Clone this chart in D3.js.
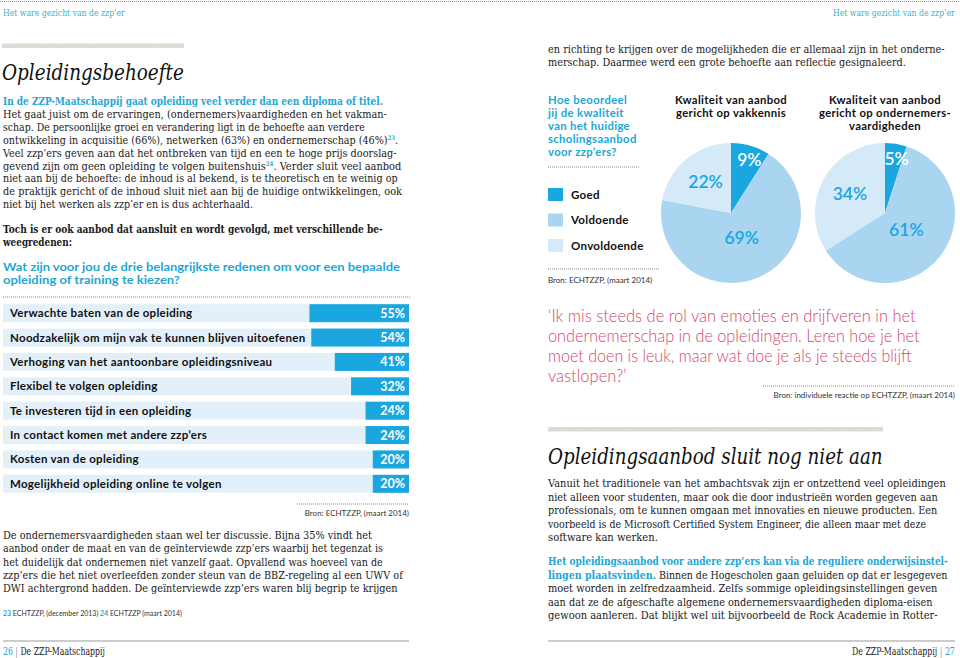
<!DOCTYPE html>
<html><head><meta charset="utf-8">
<script src="https://cdn.jsdelivr.net/npm/d3@7/dist/d3.min.js"></script>
<style>html,body{margin:0;padding:0;background:#fff;}svg{display:block;}</style>
</head><body>
<svg id="c" width="960" height="658"></svg>
<script>
// ---------- DATA ----------
const reasons = [
  "Verwachte baten van de opleiding",
  "Noodzakelijk om mijn vak te kunnen blijven uitoefenen",
  "Verhoging van het aantoonbare opleidingsniveau",
  "Flexibel te volgen opleiding",
  "Te investeren tijd in een opleiding",
  "In contact komen met andere zzp\u2019ers",
  "Kosten van de opleiding",
  "Mogelijkheid opleiding online te volgen"
];
const reasonValues = [55, 54, 41, 32, 24, 24, 20, 20];

const qualityCategories = ["Goed", "Voldoende", "Onvoldoende"];
const vakkennisValues = [9, 69, 22];
const ondernemersValues = [5, 61, 34];
const pieTitles = [
  ["Kwaliteit van aanbod", "gericht op vakkennis"],
  ["Kwaliteit van aanbod", "gericht op ondernemers-", "vaardigheden"]
];

// ---------- STYLE ----------
const BLUE = "#1aa6df", VOLD = "#a9d5f1", ONV = "#d4eaf8", BG = "#e3f0f9";
const TEAL = "#23a6d5", HEADTEAL = "#3eb2c6", PINK = "#d5466c", INK = "#1a1a1a";
const SERIF = "'DejaVu Serif', serif", SANS = "Lato, 'Open Sans', sans-serif";

const svg = d3.select("#c");

function fit(x, y, parts, width, opt) {
  opt = opt || {};
  const t = svg.append("text")
    .attr("font-family", opt.family || SERIF)
    .attr("font-size", opt.size || 11.8)
    .attr("font-style", opt.italic ? "italic" : null)
    .attr("font-weight", opt.weight || null)
    .attr("letter-spacing", opt.ls || null)
    .attr("fill", opt.color || INK);
  parts.forEach(p => {
    if (typeof p === "string") p = {t: p};
    const s = t.append("tspan").text(p.t);
    if (p.bold) s.attr("font-weight", "bold");
    if (p.color) s.attr("fill", p.color);
    if (p.sup) s.attr("font-size", 6.5).attr("dy", -4).attr("fill", TEAL).attr("font-weight", "bold");
    if (p.unsup) s.attr("dy", 4);
  });
  const w = t.node().getComputedTextLength();
  let s = opt.scale || (width ? width / w : 1);
  const x0 = opt.anchor === "end" ? x - w * s : x;
  t.attr("transform", `translate(${x0},${y}) scale(${s},1)`);
  return s;
}
function dotted(x1, x2, y) {
  svg.append("line").attr("x1", x1).attr("x2", x2).attr("y1", y).attr("y2", y)
    .attr("stroke", "#8a8a8a").attr("stroke-width", 1).attr("stroke-dasharray", "1,1");
}

// ---------- HEADER ----------
dotted(0, 960, 1.5);
fit(3, 16, ["Het ware gezicht van de zzp\u2019er"], 122, {size: 10, color: HEADTEAL});
fit(955, 16, ["Het ware gezicht van de zzp\u2019er"], 122, {size: 10, color: HEADTEAL, anchor: "end"});

// hatched bars
const defs = svg.append("defs");
const pat = defs.append("pattern").attr("id", "hatch").attr("width", 2).attr("height", 2)
  .attr("patternUnits", "userSpaceOnUse").attr("patternTransform", "rotate(45)");
pat.append("rect").attr("width", 2).attr("height", 2).attr("fill", "#e6e4de");
pat.append("rect").attr("width", 1).attr("height", 2).attr("fill", "#d6d3cb");
svg.append("rect").attr("x", 2).attr("y", 43.5).attr("width", 182).attr("height", 4.5).attr("fill", "url(#hatch)");
svg.append("rect").attr("x", 548).attr("y", 427).attr("width", 335).attr("height", 4.5).attr("fill", "url(#hatch)");

fit(2, 80, ["Opleidingsbehoefte"], 182, {size: 21.5, italic: true, color: "#111"});

// ---------- LEFT COLUMN TEXT ----------
const leftPara = [
  [[{t: "In de ZZP-Maatschappij gaat opleiding veel verder dan een diploma of titel.", bold: true, color: TEAL}], 380],
  [["Het gaat juist om de ervaringen, (ondernemers)vaardigheden en het vakman-"], 384],
  [["schap. De persoonlijke groei en verandering ligt in de behoefte aan verdere"], 362],
  [["ontwikkeling in acquisitie (66%), netwerken (63%) en ondernemerschap (46%)", {t: "23", sup: true}, {t: ".", unsup: true}], 395],
  [["Veel zzp\u2019ers geven aan dat het ontbreken van tijd en een te hoge prijs doorslag-"], 394],
  [["gevend zijn om geen opleiding te volgen buitenshuis", {t: "24", sup: true}, {t: ". Verder sluit veel aanbod", unsup: true}], 399],
  [["niet aan bij de behoefte: de inhoud is al bekend, is te theoretisch en te weinig op"], 395],
  [["de praktijk gericht of de inhoud sluit niet aan bij de huidige ontwikkelingen, ook"], 399],
  [["niet bij het werken als zzp\u2019er en is dus achterhaald."], 250]
];
leftPara.forEach((l, i) => fit(3, 105 + i * 12.9, l[0], l[1]));

fit(3, 233, [{t: "Toch is er ook aanbod dat aansluit en wordt gevolgd, met verschillende be-", bold: true}], 380);
fit(3, 246, [{t: "weegredenen:", bold: true}], 69);

fit(3, 271, [{t: "Wat zijn voor jou de drie belangrijkste redenen om voor een bepaalde", bold: true}], 397, {family: SANS, size: 12, color: TEAL});
fit(3, 283.5, [{t: "opleiding of training te kiezen?", bold: true}], 177, {family: SANS, size: 12, color: TEAL});

dotted(3, 410, 297);

// ---------- BAR CHART ----------
const barRight = 409;
const x = d3.scaleLinear().domain([0, 100]).range([0, 181]);
const y = d3.scaleBand().domain(reasons).range([301, 496]).paddingInner(0.262).paddingOuter(0.131);
const rows = svg.append("g").selectAll("g").data(reasons).join("g");
rows.append("rect").attr("x", 3).attr("y", d => y(d)).attr("width", barRight - 3)
  .attr("height", y.bandwidth()).attr("fill", BG);
rows.append("rect").attr("x", (d, i) => barRight - x(reasonValues[i])).attr("y", d => y(d))
  .attr("width", (d, i) => x(reasonValues[i])).attr("height", y.bandwidth()).attr("fill", BLUE);
rows.append("text").attr("x", 10).attr("y", d => y(d) + y.bandwidth() / 2 + 4)
  .attr("font-family", SANS).attr("font-weight", "bold").attr("font-size", 11.5)
  .attr("letter-spacing", 0.3).attr("fill", "#111").text(d => d);
rows.append("text").attr("x", barRight - 4).attr("y", d => y(d) + y.bandwidth() / 2 + 4.5)
  .attr("text-anchor", "end").attr("font-family", SANS).attr("font-weight", "bold").attr("font-size", 12.5)
  .attr("fill", "#fff").text((d, i) => reasonValues[i] + "%");

dotted(297, 409, 504);
fit(409, 516, ["Bron: ECHTZZP, (maart 2014)"], null, {family: SANS, size: 8, color: "#333", anchor: "end"});

// ---------- LEFT BOTTOM TEXT ----------
const leftPara2 = [
  ["De ondernemersvaardigheden staan wel ter discussie. Bijna 35% vindt het", 369],
  ["aanbod onder de maat en van de ge\u00efnterviewde zzp\u2019ers waarbij het tegenzat is", 380],
  ["het duidelijk dat ondernemen niet vanzelf gaat. Opvallend was hoeveel van de", 380],
  ["zzp\u2019ers die het niet overleefden zonder steun van de BBZ-regeling al een UWV of", 400],
  ["DWI achtergrond hadden. De ge\u00efnterviewde zzp\u2019ers waren blij begrip te krijgen", 395]
];
leftPara2.forEach((l, i) => fit(3, 539 + i * 13.25, [l[0]], l[1]));

fit(3, 616, [{t: "23 ", color: TEAL, bold: true}, "ECHTZZP, (december 2013) ", {t: "24 ", color: TEAL, bold: true}, "ECHTZZP (maart 2014)"], 179, {family: SANS, size: 7, color: "#333"});

svg.append("line").attr("x1", 3).attr("x2", 409).attr("y1", 641).attr("y2", 641).attr("stroke", "#999").attr("stroke-width", 1);
fit(3, 655, [{t: "26", color: TEAL}, {t: " | ", color: "#999"}, "De ZZP-Maatschappij"], 102, {size: 10.5});

// ---------- RIGHT PAGE ----------
fit(548, 53, ["en richting te krijgen over de mogelijkheden die er allemaal zijn in het onderne-"], 397);
fit(548, 66, ["merschap. Daarmee werd een grote behoefte aan reflectie gesignaleerd."], 358);

const question2 = ["Hoe beoordeel", "jij de kwaliteit", "van het huidige", "scholingsaanbod", "voor zzp\u2019ers?"];
question2.forEach((l, i) => fit(548, 104 + i * 13, [{t: l, bold: true}], null, {family: SANS, size: 11.3, ls: 0.35, color: TEAL}));
dotted(548, 640, 167);

const legendColors = [BLUE, VOLD, ONV];
const lg = svg.append("g").selectAll("g").data(qualityCategories).join("g")
  .attr("transform", (d, i) => `translate(548,${188 + i * 25.5})`);
lg.append("rect").attr("width", 15).attr("height", 13).attr("fill", (d, i) => legendColors[i]);
lg.append("text").attr("x", 23).attr("y", 10.5).attr("font-family", SANS).attr("font-weight", "bold")
  .attr("font-size", 11.5).attr("letter-spacing", 0.3).attr("fill", "#111").text(d => d);

dotted(548, 660, 269);
fit(548, 283, ["Bron: ECHTZZP, (maart 2014)"], null, {family: SANS, size: 8, color: "#333"});

// pies
const pie = d3.pie().sort(null).value(d => d);
const R = 70;
const arc = d3.arc().innerRadius(0).outerRadius(R);
const labelR = [55, 27, 40];
const labelColor = ["#fff", BLUE, BLUE];
[[vakkennisValues, 731], [ondernemersValues, 885]].forEach(([vals, cx], pi) => {
  const g = svg.append("g").attr("transform", `translate(${cx},213)`);
  const arcs = pie(vals);
  g.selectAll("path").data(arcs).join("path").attr("d", arc).attr("fill", (d, i) => legendColors[i]);
  g.selectAll("text").data(arcs).join("text")
    .attr("transform", (d, i) => {
      const c = d3.arc().innerRadius(labelR[i]).outerRadius(labelR[i]).centroid(d);
      return `translate(${c[0] + (i === 0 ? 3 : 0)},${c[1] + 6})`;
    })
    .attr("text-anchor", "middle").attr("font-family", SANS).attr("font-weight", 600)
    .attr("font-size", 17.5).attr("fill", (d, i) => labelColor[i]).text(d => d.data + "%");
  pieTitles[pi].forEach((t, i) => {
    svg.append("text").attr("x", cx).attr("y", 104 + i * 13).attr("text-anchor", "middle")
      .attr("font-family", SANS).attr("font-weight", "bold").attr("font-size", 11.3)
      .attr("letter-spacing", 0.35).attr("fill", "#111").text(t);
  });
});

// quote
const quote = [
  ["\u2018Ik mis steeds de rol van emoties en drijfveren in het", 368],
  ["ondernemerschap in de opleidingen. Leren hoe je het", 372],
  ["moet doen is leuk, maar wat doe je als je steeds blijft", 364],
  ["vastlopen?\u2019", null]
];
let qScale = 1;
quote.forEach((l, i) => {
  const s = fit(548, 322 + i * 20, [l[0]], l[1], {family: SANS, size: 17.5, weight: 300, color: PINK, scale: l[1] ? null : qScale});
  if (i === 0) qScale = s;
});
dotted(763, 955, 386);
fit(955, 398, ["Bron: individuele reactie op ECHTZZP, (maart 2014)"], null, {family: SANS, size: 8, color: "#333", anchor: "end"});

fit(548, 464, ["Opleidingsaanbod sluit nog niet aan"], 335, {size: 21.5, italic: true, color: "#111"});

const rightPara = [
  [["Vanuit het traditionele van het ambachtsvak zijn er ontzettend veel opleidingen"], 398, 487],
  [["niet alleen voor studenten, maar ook die door industrie\u00ebn worden gegeven aan"], 390, 500.5],
  [["professionals, om te kunnen omgaan met innovaties en nieuwe producten. Een"], 390, 514],
  [["voorbeeld is de Microsoft Certified System Engineer, die alleen maar met deze"], 378, 527.5],
  [["software kan werken."], 110, 541],
  [[{t: "Het opleidingsaanbod voor andere zzp\u2019ers kan via de reguliere onderwijsinstel-", bold: true, color: TEAL}], 400, 565],
  [[{t: "lingen plaatsvinden.", bold: true, color: TEAL}, " Binnen de Hogescholen gaan geluiden op dat er lesgegeven"], 400, 578.5],
  [["moet worden in zelfredzaamheid. Zelfs sommige opleidingsinstellingen geven"], 390, 592],
  [["aan dat ze de afgeschafte algemene ondernemersvaardigheden diploma-eisen"], 385, 605.5],
  [["gewoon aanleren. Dat blijkt wel uit bijvoorbeeld de Rock Academie in Rotter-"], 390, 619]
];
rightPara.forEach(l => fit(548, l[2], l[0], l[1]));

svg.append("line").attr("x1", 548).attr("x2", 955).attr("y1", 641).attr("y2", 641).attr("stroke", "#999").attr("stroke-width", 1);
fit(955, 655, ["De ZZP-Maatschappij", {t: " | ", color: "#999"}, {t: "27", color: TEAL}], 103, {size: 10.5, anchor: "end"});
</script>
</body></html>
